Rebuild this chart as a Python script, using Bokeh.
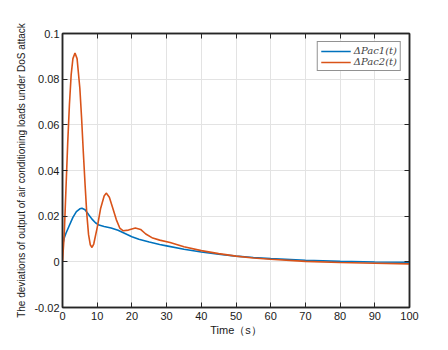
from bokeh.plotting import figure
from bokeh.models import LinearAxis, Range1d, Legend, LegendItem, FixedTicker
from bokeh.embed import file_html
from bokeh.resources import INLINE

# Data
t_ac1 = [0, 0.5, 1, 2, 3, 4, 5, 5.6, 6.5, 7.5, 8.5, 9.5, 10.5, 12, 14, 16, 18, 20, 22,
         25, 28, 30, 35, 40, 45, 50, 55, 60, 70, 80, 90, 100]
p_ac1 = [0.007, 0.0105, 0.0125, 0.016, 0.0195, 0.022, 0.0232, 0.0235, 0.0228, 0.0207,
         0.0187, 0.0171, 0.0161, 0.0155, 0.0148, 0.0138, 0.0124, 0.0110, 0.0099,
         0.0087, 0.0076, 0.0070, 0.0055, 0.0043, 0.0033, 0.0025, 0.0019, 0.0014,
         0.0007, 0.0002, -0.0001, -0.0002]

t_ac2 = [0, 0.5, 1, 1.5, 2, 2.5, 3, 3.6, 4.2, 5, 5.5, 6, 6.5, 7, 7.5, 8, 8.5, 9, 10, 11,
         12, 12.6, 13.5, 14.5, 15.5, 16.5, 17.5, 19, 21, 22.5, 24, 26, 28, 31, 35, 40,
         45, 50, 55, 60, 70, 80, 90, 100]
p_ac2 = [0.0, 0.012, 0.032, 0.052, 0.069, 0.082, 0.089, 0.0915, 0.089, 0.076, 0.063,
         0.048, 0.034, 0.021, 0.012, 0.0075, 0.0063, 0.0078, 0.015, 0.0235, 0.0288,
         0.0301, 0.0283, 0.0235, 0.0185, 0.0148, 0.0136, 0.0139, 0.0148, 0.0142,
         0.0122, 0.0104, 0.0095, 0.0085, 0.0066, 0.0049, 0.0036, 0.0025, 0.0017,
         0.0011, 0.0002, -0.0003, -0.0006, -0.0009]

x_ticks = [0, 10, 20, 30, 40, 50, 60, 70, 80, 90, 100]
y_ticks = [-0.02, 0, 0.02, 0.04, 0.06, 0.08, 0.1]
y_tick_labels = ["-0.02", "0", "0.02", "0.04", "0.06", "0.08", "0.1"]

axis_color = "#262626"
font = "Liberation Sans"

p = figure(frame_width=347, frame_height=274, output_backend="svg", toolbar_location=None,
           x_range=Range1d(0, 100), y_range=Range1d(-0.02, 0.1),
           min_border_left=62, min_border_right=30, min_border_top=33, min_border_bottom=32)
p.background_fill_color = "white"
p.outline_line_color = axis_color
p.outline_line_width = 1.5

blue = p.line(t_ac1, p_ac1, line_color="#0072BD", line_width=1.6)
orange = p.line(t_ac2, p_ac2, line_color="#D95319", line_width=1.6)

for ax in [p.xaxis[0], p.yaxis[0]]:
    ax.axis_line_color = axis_color
    ax.axis_line_width = 1.5
    ax.major_tick_line_color = axis_color
    ax.major_tick_in = 5
    ax.major_tick_out = 0
    ax.minor_tick_line_color = None
    ax.major_label_text_font = font
    ax.major_label_text_font_size = "11px"
    ax.major_label_text_color = "#1a1a1a"
    ax.axis_label_text_font = font
    ax.axis_label_text_font_style = "normal"
    ax.axis_label_text_color = "#1a1a1a"

p.xaxis[0].ticker = FixedTicker(ticks=x_ticks)
p.yaxis[0].ticker = FixedTicker(ticks=y_ticks)
p.yaxis[0].major_label_overrides = {v: s for v, s in zip(y_ticks, y_tick_labels)}
p.xaxis[0].axis_label = "Time\uff08s\uff09"
p.xaxis[0].axis_label_text_font_size = "11px"
p.xaxis[0].axis_label_standoff = 1
p.xaxis[0].major_label_standoff = 4
p.yaxis[0].axis_label = "The deviations of output of air conditioning loads under DoS attack"
p.yaxis[0].axis_label_text_font_size = "10px"
p.yaxis[0].axis_label_standoff = 4
p.yaxis[0].major_label_standoff = 3

for side in ["above", "right"]:
    ticks = x_ticks if side == "above" else y_ticks
    ax = LinearAxis(ticker=FixedTicker(ticks=ticks),
                    major_label_overrides={v: "" for v in ticks},
                    major_label_text_font_size="1px", major_tick_in=5, major_tick_out=0,
                    axis_line_color=axis_color, axis_line_width=1.5,
                    major_tick_line_color=axis_color, minor_tick_line_color=None,
                    major_label_standoff=0)
    p.add_layout(ax, side)

p.grid.grid_line_color = "#e3e3e3"
p.grid.grid_line_width = 1
p.xgrid.ticker = FixedTicker(ticks=x_ticks)
p.ygrid.ticker = FixedTicker(ticks=y_ticks)

legend = Legend(items=[LegendItem(label="ΔPac1(t)", renderers=[blue]),
                       LegendItem(label="ΔPac2(t)", renderers=[orange])],
                location="top_right", label_text_font="DejaVu Serif",
                label_text_font_style="italic", label_text_font_size="10px",
                border_line_color=axis_color, border_line_width=1,
                glyph_width=30, glyph_height=10, label_height=10,
                spacing=0, padding=3, margin=8, label_standoff=3)
p.add_layout(legend)

open("out.html", "w").write(file_html(p, INLINE))
